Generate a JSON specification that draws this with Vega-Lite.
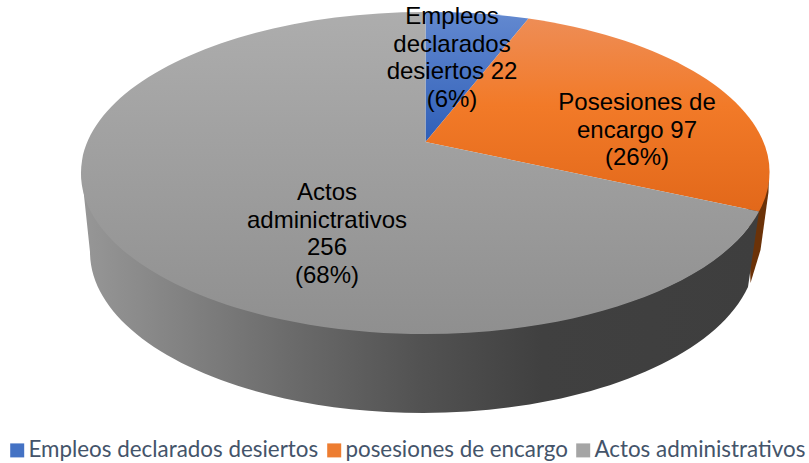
{
  "$schema": "https://vega.github.io/schema/vega-lite/v6.json",
  "width": 809,
  "height": 463,
  "padding": 0,
  "autosize": {"type": "none"},
  "background": "white",
  "data": {"values": [
    {"categoria": "Empleos declarados desiertos", "valor": 22, "porcentaje": 6, "etiqueta": "Empleos\ndeclarados\ndesiertos 22\n(6%)"},
    {"categoria": "posesiones de encargo", "valor": 97, "porcentaje": 26, "etiqueta": "Posesiones de\nencargo 97\n(26%)"},
    {"categoria": "Actos administrativos", "valor": 256, "porcentaje": 68, "etiqueta": "Actos\nadminictrativos\n256\n(68%)"}
  ]},
  "config": {"view": {"stroke": null}},
  "layer": [
    {
      "transform": [{"filter": "datum.valor == 97"}],
      "mark": {"type": "point", "filled": true, "opacity": 1, "strokeWidth": 0, "size": 4, "xOffset": 21, "yOffset": -89.5,
        "shape": "M343.5 30 L343 50 L335 108 L325 141 L322.5 60 Z",
        "fill": "#6b3208"}
    },
    {
      "transform": [{"filter": "datum.valor == 256"}],
      "mark": {"type": "point", "filled": true, "opacity": 1, "strokeWidth": 0, "size": 4, "xOffset": 21, "yOffset": -89.5,
        "shape": "M-344 30 A344 161 0 0 0 333.5 69.5 L322.5 145 A333 161 0 0 1 -335.5 110 Z",
        "fill": {"gradient": "linear", "x1": 0, "y1": 0, "x2": 1, "y2": 0, "stops": [
          {"offset": 0, "color": "#979797"},
          {"offset": 0.3, "color": "#6c6c6c"},
          {"offset": 0.5, "color": "#525252"},
          {"offset": 0.68, "color": "#404040"},
          {"offset": 1, "color": "#3e3e3e"}
        ]}}
    },
    {
      "mark": {"type": "point", "filled": true, "opacity": 1, "strokeWidth": 0, "size": 0},
      "encoding": {
        "color": {"field": "categoria", "type": "nominal",
          "scale": {
            "domain": ["Empleos declarados desiertos", "posesiones de encargo", "Actos administrativos"],
            "range": ["#4472c4", "#ed7d31", "#a5a5a5"]},
          "legend": {"title": null, "orient": "none", "legendX": 6, "legendY": 439, "direction": "horizontal", "columns": 3,
            "symbolType": "square", "symbolSize": 196, "symbolStrokeWidth": 0, "symbolOpacity": 1,
            "labelFont": "Lato", "labelFontSize": 22.4, "labelColor": "#44546a", "labelOffset": 0, "labelLimit": 400, "columnPadding": 4}}
      }
    },
    {
      "transform": [{"filter": "datum.valor == 22"}],
      "mark": {"type": "point", "filled": true, "opacity": 1, "strokeWidth": 0, "size": 4, "xOffset": 21, "yOffset": -89.5,
        "shape": "M0 0 L0 -130 A344 161 0 0 1 103 -123.6 Z",
        "fill": {"gradient": "linear", "x1": 0, "y1": 0, "x2": 0, "y2": 1, "stops": [{"offset": 0, "color": "#6389d0"}, {"offset": 1, "color": "#2f5fb8"}]}}
    },
    {
      "transform": [{"filter": "datum.valor == 97"}],
      "mark": {"type": "point", "filled": true, "opacity": 1, "strokeWidth": 0, "size": 4, "xOffset": 21, "yOffset": -89.5,
        "shape": "M0 0 L103 -123.6 A344 161 0 0 1 333.5 69.5 Z",
        "fill": {"gradient": "linear", "x1": 0, "y1": 0, "x2": 0, "y2": 1, "stops": [{"offset": 0, "color": "#ee8d56"}, {"offset": 0.45, "color": "#f27a28"}, {"offset": 1, "color": "#e2681a"}]}}
    },
    {
      "transform": [{"filter": "datum.valor == 256"}],
      "mark": {"type": "point", "filled": true, "opacity": 1, "strokeWidth": 0, "size": 4, "xOffset": 21, "yOffset": -89.5,
        "shape": "M0 0 L333.5 69.5 A344 161 0 1 1 0 -130 Z",
        "fill": {"gradient": "linear", "x1": 0, "y1": 0, "x2": 0, "y2": 1, "stops": [{"offset": 0, "color": "#adadad"}, {"offset": 1, "color": "#8f8f8f"}]}}
    },
    {
      "transform": [{"filter": "datum.valor == 22"}],
      "mark": {"type": "text", "font": "Liberation Sans", "fontSize": 24, "lineHeight": 27.5, "lineBreak": "\n", "align": "center", "baseline": "middle", "color": "black", "dx": 47.5, "dy": -214.5},
      "encoding": {"text": {"field": "etiqueta", "type": "nominal"}}
    },
    {
      "transform": [{"filter": "datum.valor == 97"}],
      "mark": {"type": "text", "font": "Liberation Sans", "fontSize": 24, "lineHeight": 27.5, "lineBreak": "\n", "align": "center", "baseline": "middle", "color": "black", "dx": 232.5, "dy": -128.5},
      "encoding": {"text": {"field": "etiqueta", "type": "nominal"}}
    },
    {
      "transform": [{"filter": "datum.valor == 256"}],
      "mark": {"type": "text", "font": "Liberation Sans", "fontSize": 24, "lineHeight": 27.5, "lineBreak": "\n", "align": "center", "baseline": "middle", "color": "black", "dx": -77.5, "dy": -38.5},
      "encoding": {"text": {"field": "etiqueta", "type": "nominal"}}
    }
  ]
}
